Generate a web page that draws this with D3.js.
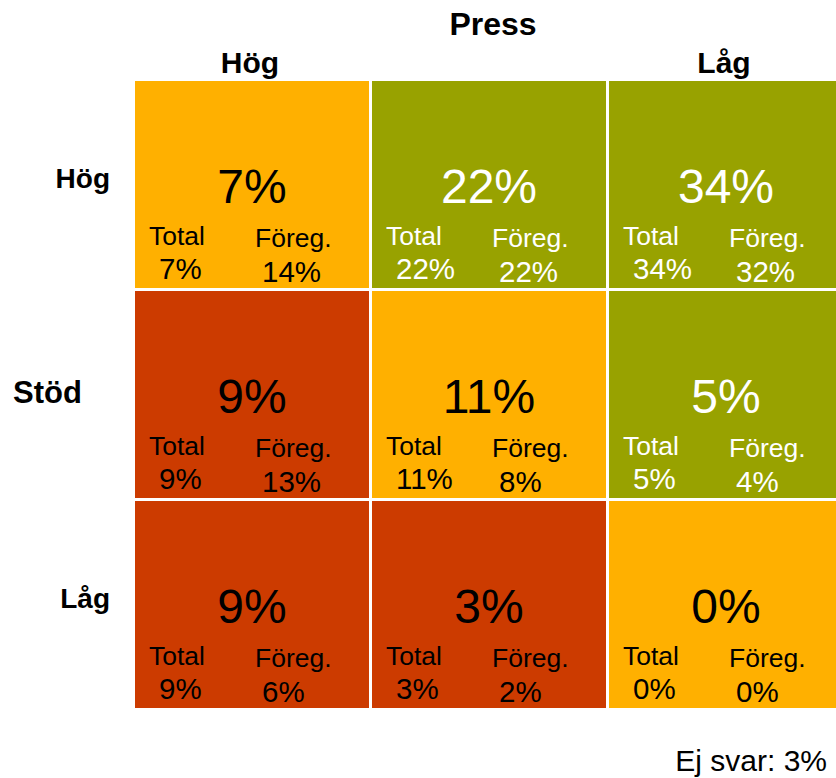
<!DOCTYPE html>
<html>
<head>
<meta charset="utf-8">
<script src="https://cdn.jsdelivr.net/npm/d3@7"></script>
<style>
  html, body { margin: 0; padding: 0; background: #ffffff; }
  svg { display: block; font-family: "Liberation Sans", Arial, sans-serif; }
</style>
</head>
<body>
<svg id="chart" width="836" height="778"></svg>
<script>
// ---- data ----
const pressTitle = "Press";
const supportTitle = "Stöd";
const pressLevels = ["Hög", "", "Låg"];      // columns
const supportLevels = ["Hög", "", "Låg"];    // rows
const mainValues = [
  [7, 22, 34],
  [9, 11, 5],
  [9, 3, 0]
];
const totalValues = [
  [7, 22, 34],
  [9, 11, 5],
  [9, 3, 0]
];
const prevValues = [
  [14, 22, 32],
  [13, 8, 4],
  [6, 2, 0]
];
// risk category per cell: 0 = green, 1 = orange, 2 = red
const cellCategory = [
  [1, 0, 0],
  [2, 1, 0],
  [2, 2, 1]
];
const totalLabel = "Total";
const prevLabel = "Föreg.";
const noAnswerLabel = "Ej svar:";
const noAnswerValue = 3;

// ---- layout ----
const svg = d3.select("#chart");
const idx = [0, 1, 2];

const x = d3.scaleBand().domain(idx).range([135, 843]).paddingInner(3 / 237).paddingOuter(0);
const y = d3.scaleBand().domain(idx).range([81, 708]).paddingInner(3 / 210).paddingOuter(0);

const fillScale = d3.scaleOrdinal().domain([0, 1, 2]).range(["#98A200", "#FFB000", "#CC3B00"]);
const textScale = d3.scaleOrdinal().domain([0, 1, 2]).range(["#ffffff", "#000000", "#000000"]);
const pct = v => v + "%";

const cells = [];
idx.forEach(r => idx.forEach(c => cells.push({
  r, c,
  main: mainValues[r][c],
  total: totalValues[r][c],
  prev: prevValues[r][c],
  cat: cellCategory[r][c]
})));

const g = svg.append("g");
const cell = g.selectAll("g.cell").data(cells).join("g")
  .attr("class", "cell")
  .attr("transform", d => `translate(${x(d.c)},${y(d.r)})`);

cell.append("rect")
  .attr("width", x.bandwidth())
  .attr("height", y.bandwidth())
  .attr("fill", d => fillScale(d.cat));

cell.append("text")
  .attr("x", x.bandwidth() / 2)
  .attr("y", 122)
  .attr("text-anchor", "middle")
  .attr("font-size", 48)
  .attr("fill", d => textScale(d.cat))
  .text(d => pct(d.main));

cell.append("text")
  .attr("x", 14).attr("y", 164)
  .attr("font-size", 26.5)
  .attr("fill", d => textScale(d.cat))
  .text(totalLabel);

cell.append("text")
  .attr("x", 24).attr("y", 198)
  .attr("font-size", 29.5)
  .attr("fill", d => textScale(d.cat))
  .text(d => pct(d.total));

cell.append("text")
  .attr("x", 120).attr("y", 166)
  .attr("font-size", 26.5)
  .attr("fill", d => textScale(d.cat))
  .text(prevLabel);

cell.append("text")
  .attr("x", 127).attr("y", 201)
  .attr("font-size", 29.5)
  .attr("fill", d => textScale(d.cat))
  .text(d => pct(d.prev));

// column headers
svg.append("text")
  .attr("x", x(1) + x.bandwidth() / 2 + 4)
  .attr("y", 35)
  .attr("text-anchor", "middle")
  .attr("font-size", 32).attr("font-weight", "bold")
  .text(pressTitle);

svg.selectAll("text.colhead").data(idx).join("text")
  .attr("class", "colhead")
  .attr("x", c => x(c) + x.bandwidth() / 2 - 2)
  .attr("y", 73)
  .attr("text-anchor", "middle")
  .attr("font-size", 30).attr("font-weight", "bold")
  .text(c => pressLevels[c]);

// row headers
svg.selectAll("text.rowhead").data(idx).join("text")
  .attr("class", "rowhead")
  .attr("x", 110)
  .attr("y", r => y(r) + y.bandwidth() / 2 + 3)
  .attr("text-anchor", "end")
  .attr("font-size", 28).attr("font-weight", "bold")
  .text(r => supportLevels[r]);

svg.append("text")
  .attr("x", 13)
  .attr("y", y(1) + y.bandwidth() / 2 + 8)
  .attr("font-size", 31).attr("font-weight", "bold")
  .text(supportTitle);

svg.append("text")
  .attr("x", 827).attr("y", 771)
  .attr("text-anchor", "end")
  .attr("font-size", 30)
  .text(noAnswerLabel + " " + pct(noAnswerValue));
</script>
</body>
</html>
